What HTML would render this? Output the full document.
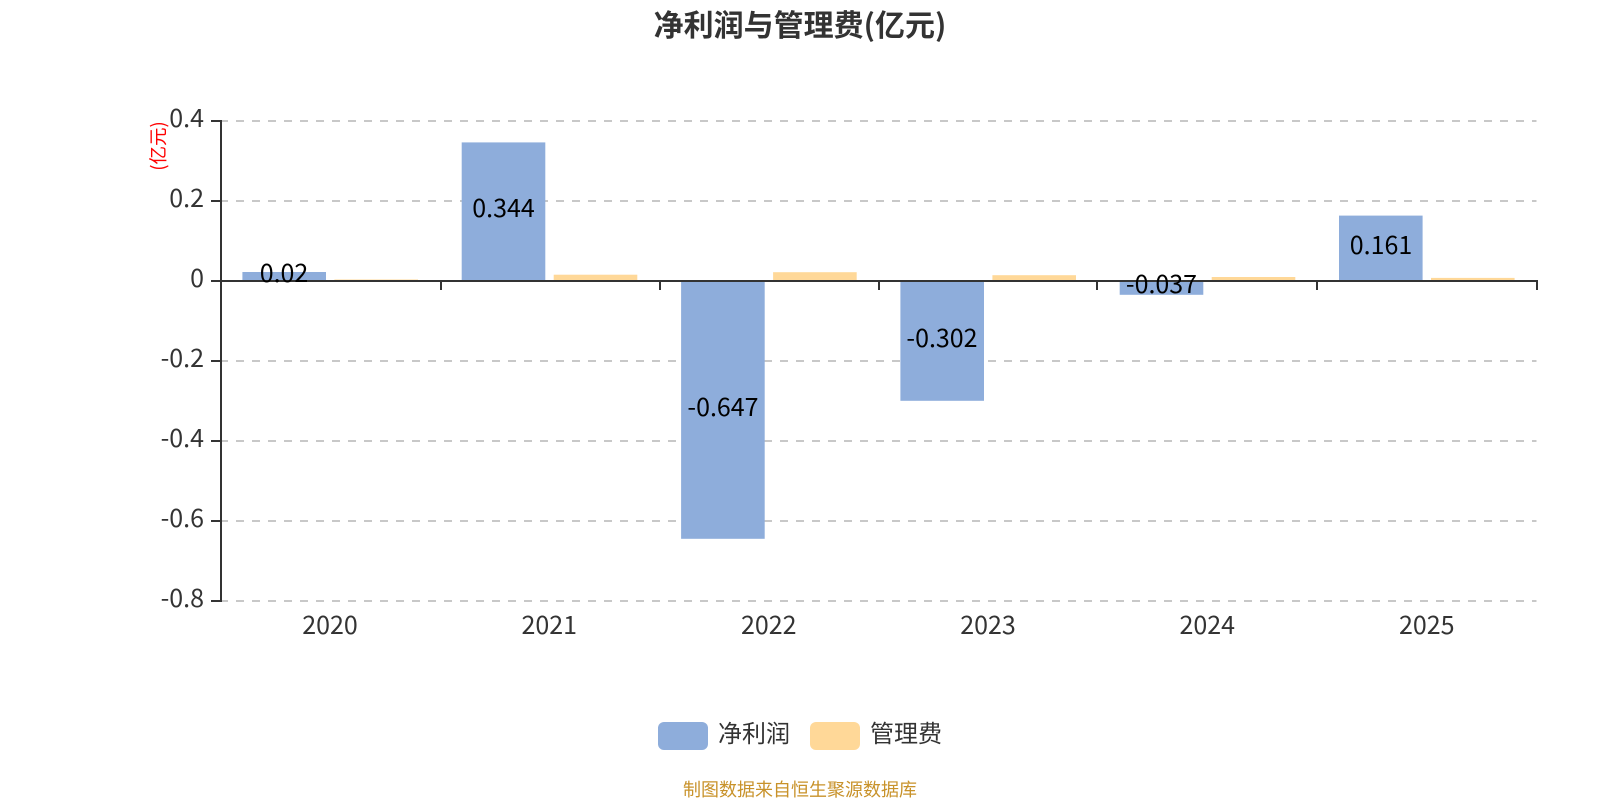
<!DOCTYPE html>
<html><head><meta charset="utf-8"><style>
html,body{margin:0;padding:0;background:#fff;width:1600px;height:800px;overflow:hidden}
svg{display:block}
text{font-family:"Noto Sans CJK SC","Liberation Sans",sans-serif}
</style></head><body>
<svg width="1600" height="800" viewBox="0 0 1600 800">
<rect width="1600" height="800" fill="#fff"/>
<text x="800" y="36" text-anchor="middle" font-size="30" font-weight="700" fill="#333">净利润与管理费(亿元)</text>
<g stroke="#c8c8c8" stroke-width="2" stroke-dasharray="8 8">
<line x1="220" x2="1536.5" y1="121" y2="121"/>
<line x1="220" x2="1536.5" y1="201" y2="201"/>
<line x1="220" x2="1536.5" y1="361" y2="361"/>
<line x1="220" x2="1536.5" y1="441" y2="441"/>
<line x1="220" x2="1536.5" y1="521" y2="521"/>
<line x1="220" x2="1536.5" y1="601" y2="601"/>
</g>
<g fill="#8eaddb">
<rect x="242.4" y="272" width="83.6" height="8"/>
<rect x="461.7" y="142.4" width="83.6" height="137.6"/>
<rect x="681.1" y="280" width="83.6" height="258.8"/>
<rect x="900.4" y="280" width="83.6" height="120.8"/>
<rect x="1119.7" y="280" width="83.6" height="14.8"/>
<rect x="1339" y="215.6" width="83.6" height="64.4"/>
</g>
<g fill="#ffd898">
<rect x="334.4" y="279.5" width="83.6" height="0.5"/>
<rect x="553.7" y="274.7" width="83.6" height="5.3"/>
<rect x="773.1" y="272.2" width="83.6" height="7.8"/>
<rect x="992.4" y="275.2" width="83.6" height="4.8"/>
<rect x="1211.7" y="277" width="83.6" height="3"/>
<rect x="1431" y="277.9" width="83.6" height="2.1"/>
</g>
<g stroke="#333" stroke-width="2" fill="none">
<line x1="221" x2="221" y1="120" y2="602"/>
<line x1="211" x2="221" y1="121" y2="121"/>
<line x1="211" x2="221" y1="201" y2="201"/>
<line x1="211" x2="221" y1="281" y2="281"/>
<line x1="211" x2="221" y1="361" y2="361"/>
<line x1="211" x2="221" y1="441" y2="441"/>
<line x1="211" x2="221" y1="521" y2="521"/>
<line x1="211" x2="221" y1="601" y2="601"/>
<line x1="220" x2="1538" y1="281" y2="281"/>
<line x1="441" x2="441" y1="281" y2="290"/>
<line x1="660" x2="660" y1="281" y2="290"/>
<line x1="879" x2="879" y1="281" y2="290"/>
<line x1="1097" x2="1097" y1="281" y2="290"/>
<line x1="1317" x2="1317" y1="281" y2="290"/>
<line x1="1537" x2="1537" y1="281" y2="290"/>
</g>
<g font-size="25" fill="#333" text-anchor="end">
<text x="204" y="127">0.4</text>
<text x="204" y="207">0.2</text>
<text x="204" y="287">0</text>
<text x="204" y="367">-0.2</text>
<text x="204" y="447">-0.4</text>
<text x="204" y="527">-0.6</text>
<text x="204" y="607">-0.8</text>
</g>
<g font-size="25" fill="#333" text-anchor="middle">
<text x="330" y="634">2020</text>
<text x="549.3" y="634">2021</text>
<text x="768.7" y="634">2022</text>
<text x="988" y="634">2023</text>
<text x="1207.3" y="634">2024</text>
<text x="1426.7" y="634">2025</text>
</g>
<g font-size="25" fill="#000" text-anchor="middle">
<text x="284" y="282">0.02</text>
<text x="503.5" y="217">0.344</text>
<text x="723" y="416">-0.647</text>
<text x="942" y="347">-0.302</text>
<text x="1161.5" y="293">-0.037</text>
<text x="1381" y="254">0.161</text>
</g>
<text transform="translate(165,146) rotate(-90)" font-size="18.5" fill="#f00" text-anchor="middle">(亿元)</text>
<rect x="658" y="722" width="50" height="28" rx="6" fill="#8eaddb"/>
<rect x="810" y="722" width="50" height="28" rx="6" fill="#ffd898"/>
<text x="718" y="742" font-size="24" fill="#333">净利润</text>
<text x="870" y="742" font-size="24" fill="#333">管理费</text>
<text x="800" y="796" font-size="18" fill="#c8922a" text-anchor="middle">制图数据来自恒生聚源数据库</text>
</svg>
</body></html>
